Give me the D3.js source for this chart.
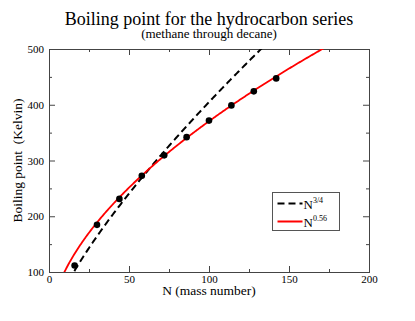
<!DOCTYPE html>
<html>
<head>
<meta charset="utf-8">
<script src="https://cdn.jsdelivr.net/npm/d3@7"></script>
<style>
  body { margin: 0; background: #fff; }
</style>
</head>
<body>
<section></section>
<script>
// alkanes, methane -> decane
var massNumber = [16, 30, 44, 58, 72, 86, 100, 114, 128, 142];
var boilingK = [111.7, 184.6, 231.1, 272.7, 309.2, 341.9, 371.6, 398.8, 424.0, 447.3];

// power law fits shown as curves
var fitDashed = {coef: 12.8, expo: 0.75};
var fitRed = {coef: 28.1, expo: 0.56};

var xTicks = [0, 50, 100, 150, 200];
var yTicks = [100, 200, 300, 400, 500];
var xMinor = [25, 75, 125, 175];
var yMinor = [150, 250, 350, 450];

var serif = "Liberation Serif";
var width = 415, height = 321;
var margin = {left: 49, right: 46, top: 49, bottom: 49};
var chartWidth = width - margin.left - margin.right;
var chartHeight = height - margin.top - margin.bottom;

var svg = d3.select("section").append("svg")
  .attr("width", width)
  .attr("height", height)
  .attr("font-family", serif);

function addText(x, y, size, str) {
  return svg.append("text")
    .attr("x", x).attr("y", y)
    .attr("text-anchor", "middle")
    .attr("font-family", serif)
    .attr("font-size", size)
    .attr("fill", "#000")
    .text(str);
}

addText(209, 25, 18, "Boiling point for the hydrocarbon series");
addText(209, 37.5, 13, "(methane through decane)");

var chartGroup = svg.append("g").attr("transform", "translate(" + margin.left + "," + margin.top + ")");

var xScale = d3.scaleLinear().domain([0, 200]).range([0, chartWidth]);
var yScale = d3.scaleLinear().domain([100, 500]).range([chartHeight, 0]);

chartGroup.append("clipPath").attr("id", "clip")
  .append("rect").attr("width", chartWidth).attr("height", chartHeight);

var axisColor = "#444";
function styleAxis(g, hideLabels) {
  g.attr("font-family", serif).attr("font-size", 11);
  g.select(".domain").remove();
  g.selectAll(".tick line").attr("stroke", axisColor);
  g.selectAll("text").attr("font-family", serif).attr("font-size", 11).attr("fill", "#000");
  if (hideLabels) g.selectAll("text").remove();
  return g;
}

// ticks point inward on all four sides, major + minor
styleAxis(chartGroup.append("g").attr("transform", "translate(0," + chartHeight + ")")
  .call(d3.axisBottom(xScale).tickValues(xTicks).tickSize(-6).tickPadding(3)));
styleAxis(chartGroup.append("g").attr("transform", "translate(0," + chartHeight + ")")
  .call(d3.axisBottom(xScale).tickValues(xMinor).tickSize(-3)), true);
styleAxis(chartGroup.append("g")
  .call(d3.axisTop(xScale).tickValues(xTicks).tickSize(-6)), true);
styleAxis(chartGroup.append("g")
  .call(d3.axisTop(xScale).tickValues(xMinor).tickSize(-3)), true);

styleAxis(chartGroup.append("g")
  .call(d3.axisLeft(yScale).tickValues(yTicks).tickSize(-6).tickPadding(5)));
styleAxis(chartGroup.append("g")
  .call(d3.axisLeft(yScale).tickValues(yMinor).tickSize(-3)), true);
styleAxis(chartGroup.append("g").attr("transform", "translate(" + chartWidth + ",0)")
  .call(d3.axisRight(yScale).tickValues(yTicks).tickSize(-6)), true);
styleAxis(chartGroup.append("g").attr("transform", "translate(" + chartWidth + ",0)")
  .call(d3.axisRight(yScale).tickValues(yMinor).tickSize(-3)), true);

chartGroup.append("rect")
  .attr("x", 0.5).attr("y", 0.5)
  .attr("width", chartWidth).attr("height", chartHeight)
  .attr("fill", "none").attr("stroke", axisColor).attr("stroke-width", 1);

// fitted curves
var curveN = d3.range(1, 201, 0.5);
function fitPath(fit) {
  return d3.line()
    .x(function(d) { return xScale(d); })
    .y(function(d) { return yScale(fit.coef * Math.pow(d, fit.expo)); })(curveN);
}

var curves = chartGroup.append("g").attr("clip-path", "url(#clip)");
curves.append("path")
  .attr("d", fitPath(fitDashed))
  .attr("fill", "none").attr("stroke", "#000").attr("stroke-width", 2)
  .attr("stroke-dasharray", "7,4");
curves.append("path")
  .attr("d", fitPath(fitRed))
  .attr("fill", "none").attr("stroke", "#ff0000").attr("stroke-width", 1.8);

chartGroup.selectAll("circle.pt")
  .data(massNumber)
  .enter().append("circle")
  .attr("class", "pt")
  .attr("cx", function(d) { return xScale(d); })
  .attr("cy", function(d, i) { return yScale(boilingK[i]); })
  .attr("r", 3.3)
  .attr("fill", "#000");

// axis titles
addText(margin.left + chartWidth / 2, 295, 13.5, "N (mass number)");
addText(0, 0, 13.5, "Boiling point\u00a0\u00a0(Kelvin)")
  .attr("transform", "translate(22," + (margin.top + chartHeight / 2) + ") rotate(-90)");

// legend
var legend = svg.append("g").attr("transform", "translate(272.5,192.5)");
legend.append("rect")
  .attr("width", 67).attr("height", 38)
  .attr("fill", "#fff").attr("stroke", "#555").attr("stroke-width", 1);

var legendItems = [
  {exp: "3/4", color: "#000", dash: "7,4", y: 11},
  {exp: "0.56", color: "#ff0000", dash: null, y: 29}
];
legendItems.forEach(function(it) {
  legend.append("line")
    .attr("x1", 5).attr("x2", 30)
    .attr("y1", it.y).attr("y2", it.y)
    .attr("stroke", it.color).attr("stroke-width", 2)
    .attr("stroke-dasharray", it.dash);
  var t = legend.append("text")
    .attr("x", 31).attr("y", it.y + 5)
    .attr("font-family", serif)
    .attr("font-size", 13)
    .attr("fill", "#000");
  t.append("tspan").attr("fill", "#000").text("N");
  t.append("tspan").attr("dy", -6).attr("font-size", 8).attr("fill", "#000").text(it.exp);
});
</script>
</body>
</html>
